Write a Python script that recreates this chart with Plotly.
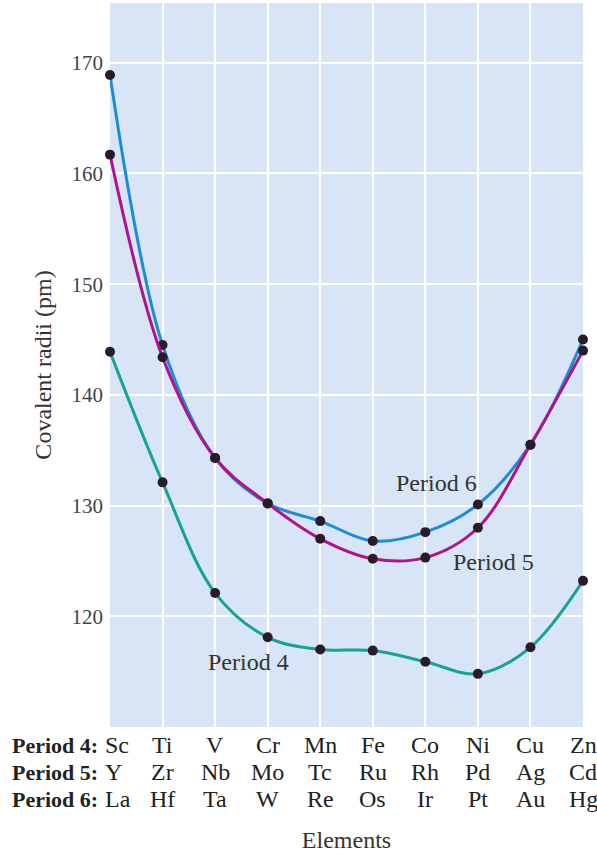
import plotly.graph_objects as go

period4 = ["Sc", "Ti", "V", "Cr", "Mn", "Fe", "Co", "Ni", "Cu", "Zn"]
period5 = ["Y", "Zr", "Nb", "Mo", "Tc", "Ru", "Rh", "Pd", "Ag", "Cd"]
period6 = ["La", "Hf", "Ta", "W", "Re", "Os", "Ir", "Pt", "Au", "Hg"]

radii4 = [143.9, 132.1, 122.1, 118.1, 117.0, 116.9, 115.9, 114.8, 117.2, 123.2]
radii5 = [161.7, 143.4, 134.3, 130.2, 127.0, 125.2, 125.3, 128.0, 135.5, 144.0]
radii6 = [168.9, 144.5, 134.3, 130.2, 128.6, 126.8, 127.6, 130.1, 135.5, 145.0]

row_headers = ["Period 4:", "Period 5:", "Period 6:"]
y_ticks = [120, 130, 140, 150, 160, 170]

FONT = "Liberation Serif"
idx = list(range(len(period4)))

fig = go.Figure()
series = [
    (radii4, "#14a394"),
    (radii6, "#1b8cd7"),
    (radii5, "#b0148d"),
]
for vals, col in series:
    fig.add_trace(go.Scatter(
        x=idx, y=vals, mode="lines+markers",
        line=dict(color=col, width=3, shape="spline", smoothing=1.0),
        marker=dict(color="#2a1b2a", size=10),
        cliponaxis=False, showlegend=False, hoverinfo="skip",
    ))

# series labels
labels = [("Period 6", 6.22, 132.0), ("Period 5", 7.3, 124.9), ("Period 4", 2.63, 115.9)]
for t, x, y in labels:
    fig.add_annotation(x=x, y=y, xref="x", yref="y", text=t, showarrow=False,
                       font=dict(family=FONT, size=24, color="#333333"))

# element rows below the axis
rows = [period4, period5, period6]
for r, (row, head) in enumerate(zip(rows, row_headers)):
    ys = -18 - 27 * r
    fig.add_annotation(x=0, y=0, xref="paper", yref="paper", text="<b>" + head + "</b>",
                       xanchor="right", yanchor="middle", xshift=-10, yshift=ys,
                       showarrow=False, font=dict(family=FONT, size=22, color="#222222"))
    for i, sym in enumerate(row):
        fig.add_annotation(x=i, y=0, xref="x", yref="paper", text=sym,
                           xanchor="left" if i == 0 else "center", yanchor="middle",
                           xshift=-7 if i == 0 else 0, yshift=ys,
                           showarrow=False, font=dict(family=FONT, size=24, color="#222222"))

fig.update_layout(
    width=597, height=855,
    margin=dict(l=110, r=14, t=3, b=128),
    paper_bgcolor="white", plot_bgcolor="#d8e5f6",
    font=dict(family=FONT, color="#333333"),
    xaxis=dict(range=[0, 9], tickvals=idx, showticklabels=False, showgrid=True,
               gridcolor="white", gridwidth=2, zeroline=False, showline=False,
               title=dict(text="Elements", font=dict(family=FONT, size=24, color="#333333"),
                          standoff=104)),
    yaxis=dict(range=[110, 175.4], tickvals=y_ticks, showgrid=True, gridcolor="white",
               gridwidth=2, zeroline=False, showline=False, ticklabelstandoff=6,
               tickfont=dict(family=FONT, size=21, color="#444444"),
               title=dict(text="Covalent radii (pm)", font=dict(family=FONT, size=24, color="#333333"),
                          standoff=13)),
)

fig.write_html("out.html", config={"displayModeBar": False},
               post_script="document.body.style.margin='0';")
